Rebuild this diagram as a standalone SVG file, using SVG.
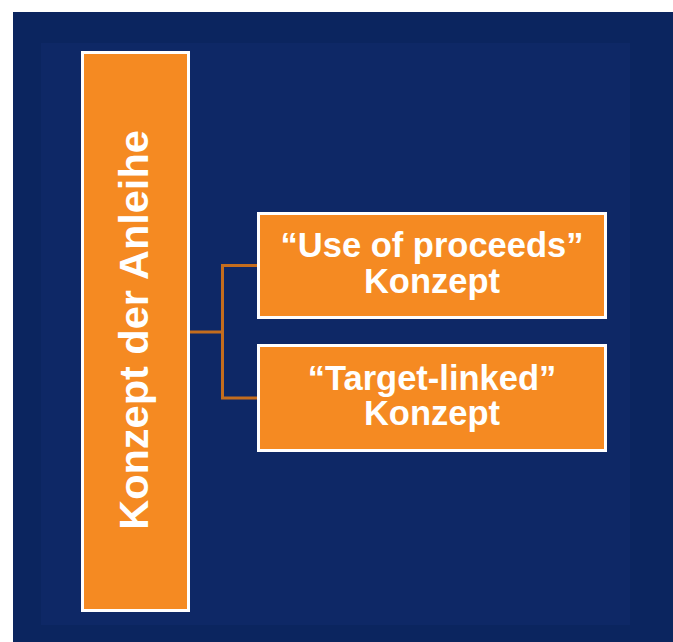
<svg xmlns="http://www.w3.org/2000/svg" width="673" height="642" viewBox="0 0 673 642">
  <style>
    .box { fill: #f58a22; stroke: #ffffff; stroke-width: 3; }
    .label { font-family: "Liberation Sans", Arial, sans-serif; font-weight: bold; fill: #ffffff; text-anchor: middle; }
    .conn { fill: none; stroke: #c46d1e; stroke-width: 3; }
  </style>
  <rect x="0" y="0" width="673" height="642" fill="#ffffff"/>
  <!-- background panels -->
  <rect x="13" y="12" width="660" height="630" fill="#0b255f"/>
  <rect x="41" y="43" width="589" height="582" fill="#0e2866"/>

  <!-- connectors -->
  <g id="connectors">
    <path class="conn" d="M190,332 H222.5"/>
    <path class="conn" d="M257,265.5 H222.5 V398 H257"/>
  </g>

  <g id="node-root">
    <rect class="box" x="82.5" y="52.5" width="106" height="558"/>
    <text class="label" font-size="41.5" transform="translate(148,330) rotate(-90)" x="0" y="0">Konzept der Anleihe</text>
  </g>

  <g id="node-use-of-proceeds">
    <rect class="box" x="258.5" y="213.5" width="347" height="104"/>
    <text class="label" font-size="34.5" x="432" y="257">“Use of proceeds”</text>
    <text class="label" font-size="34.5" x="432" y="293">Konzept</text>
  </g>

  <g id="node-target-linked">
    <rect class="box" x="258.5" y="345.5" width="347" height="105"/>
    <text class="label" font-size="34.5" x="432" y="390">“Target-linked”</text>
    <text class="label" font-size="34.5" x="432" y="425">Konzept</text>
  </g>
</svg>
